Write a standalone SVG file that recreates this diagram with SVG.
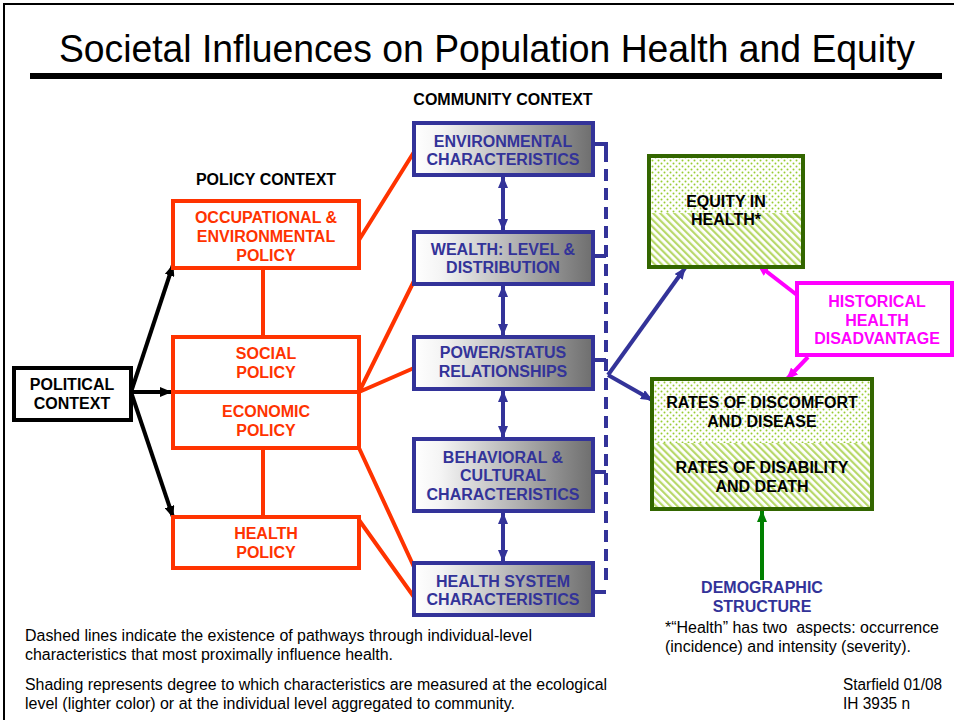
<svg xmlns="http://www.w3.org/2000/svg" width="954" height="720" viewBox="0 0 954 720">
<style>
text { font-family: "Liberation Sans", Arial, sans-serif; }
.b { font-weight: bold; font-size: 16px; text-anchor: middle; }
.n { font-size: 16px; fill: #000; white-space: pre; }
.org { fill: #ff3300; }
.blu { fill: #333399; }
.mag { fill: #ff00ff; }
.pol { fill: #fff; stroke: #ff3300; stroke-width: 4; }
.com { fill: url(#grad); stroke: #333399; stroke-width: 4; }
.grn { stroke: #336600; stroke-width: 4; fill: none; }
.cO { stroke: #ff3300; stroke-width: 4; fill: none; }
.cB { stroke: #333399; stroke-width: 4; fill: none; }
.cK { stroke: #000; stroke-width: 4; fill: none; }
.cM { stroke: #ff00ff; stroke-width: 4; fill: none; }
.cG { stroke: #008000; stroke-width: 4; fill: none; }
</style>
<defs>
<linearGradient id="grad" x1="0" y1="0" x2="1" y2="0">
<stop offset="0" stop-color="#ffffff"/>
<stop offset="0.15" stop-color="#f4f4f4"/>
<stop offset="1" stop-color="#6e6e6e"/>
</linearGradient>
<pattern id="dots" width="6" height="6" patternUnits="userSpaceOnUse">
<rect width="6" height="6" fill="#fff"/>
<circle cx="1.5" cy="1.5" r="1" fill="#99cc33"/>
<circle cx="4.5" cy="4.5" r="1" fill="#99cc33"/>
</pattern>
<pattern id="hatch" width="5" height="5" patternUnits="userSpaceOnUse" patternTransform="rotate(-45)">
<rect width="5" height="5" fill="#fff"/>
<rect width="2.2" height="5" fill="#b8d86a"/>
</pattern>
<marker id="aB" viewBox="0 0 12 10" refX="11" refY="5" markerWidth="12" markerHeight="10" markerUnits="userSpaceOnUse" orient="auto-start-reverse"><path d="M0,0 L12,5 L0,10 z" fill="#333399"/></marker>
<marker id="aK" viewBox="0 0 12 10" refX="11" refY="5" markerWidth="12" markerHeight="10" markerUnits="userSpaceOnUse" orient="auto"><path d="M0,0 L12,5 L0,10 z" fill="#000"/></marker>
<marker id="aM" viewBox="0 0 12 10" refX="11" refY="5" markerWidth="12" markerHeight="10" markerUnits="userSpaceOnUse" orient="auto"><path d="M0,0 L12,5 L0,10 z" fill="#ff00ff"/></marker>
<marker id="aG" viewBox="0 0 12 10" refX="11" refY="5" markerWidth="12" markerHeight="10" markerUnits="userSpaceOnUse" orient="auto"><path d="M0,0 L12,5 L0,10 z" fill="#008000"/></marker>
</defs>

<rect x="0" y="0" width="954" height="720" fill="#fff"/>
<rect x="4" y="4" width="1000" height="800" fill="none" stroke="#000" stroke-width="2"/>
<text x="487" y="62" font-size="38" text-anchor="middle" textLength="856" lengthAdjust="spacingAndGlyphs">Societal Influences on Population Health and Equity</text>
<line x1="30" y1="76" x2="942" y2="76" stroke="#000" stroke-width="6"/>

<text class="b" x="266" y="185">POLICY CONTEXT</text>
<text class="b" x="503" y="105">COMMUNITY CONTEXT</text>

<g id="connectors">
<path class="cO" d="M263,268 V337 M263,448 V517 M359,240 L414,152 M359,392 L414,281 M359,392 L414,368 M359,448 L414,567 M359,520 L414,597"/>
<path class="cK" d="M131,392 L171,392" marker-end="url(#aK)"/>
<path class="cK" d="M131,392 L173,265" marker-end="url(#aK)"/>
<path class="cK" d="M131,392 L173,517" marker-end="url(#aK)"/>
<path class="cB" d="M503,177 V230" marker-start="url(#aB)" marker-end="url(#aB)"/>
<path class="cB" d="M503,286 V335" marker-start="url(#aB)" marker-end="url(#aB)"/>
<path class="cB" d="M503,391 V437" marker-start="url(#aB)" marker-end="url(#aB)"/>
<path class="cB" d="M503,513 V561" marker-start="url(#aB)" marker-end="url(#aB)"/>
<path class="cB" d="M593,144 H606 V150 M593,256 H606 M593,360 H606 M593,472 H606 M593,592 H606"/>
<path class="cB" d="M606,150 V580" stroke-dasharray="12 7"/>
<path class="cB" d="M608,375 L685,268" marker-end="url(#aB)"/>
<path class="cB" d="M608,375 L652,400" marker-end="url(#aB)"/>
<path class="cM" d="M797,295 L758,265" marker-end="url(#aM)"/>
<path class="cM" d="M808,357 L787,379" marker-end="url(#aM)"/>
<path class="cG" d="M762,580 L762,511" marker-end="url(#aG)"/>
</g>

<g id="political">
<rect x="14" y="368" width="117" height="52" fill="#fff" stroke="#000" stroke-width="4"/>
<text class="b" x="72" y="390">POLITICAL</text>
<text class="b" x="72" y="409">CONTEXT</text>
</g>

<g id="occ-policy">
<rect class="pol" x="173" y="201" width="186" height="67"/>
<text class="b org" x="266" y="223">OCCUPATIONAL &amp;</text>
<text class="b org" x="266" y="242">ENVIRONMENTAL</text>
<text class="b org" x="266" y="261">POLICY</text>
</g>
<g id="social-economic-policy">
<rect class="pol" x="173" y="337" width="186" height="111"/>
<line x1="173" y1="392" x2="359" y2="392" stroke="#ff3300" stroke-width="4"/>
<text class="b org" x="266" y="359">SOCIAL</text>
<text class="b org" x="266" y="378">POLICY</text>
<text class="b org" x="266" y="417">ECONOMIC</text>
<text class="b org" x="266" y="436">POLICY</text>
</g>
<g id="health-policy">
<rect class="pol" x="173" y="517" width="186" height="51"/>
<text class="b org" x="266" y="539">HEALTH</text>
<text class="b org" x="266" y="558">POLICY</text>
</g>

<g id="env">
<rect class="com" x="414" y="123" width="179" height="52"/>
<text class="b blu" x="503" y="147">ENVIRONMENTAL</text>
<text class="b blu" x="503" y="165">CHARACTERISTICS</text>
</g>
<g id="wealth">
<rect class="com" x="414" y="232" width="179" height="52"/>
<text class="b blu" x="503" y="255">WEALTH: LEVEL &amp;</text>
<text class="b blu" x="503" y="273">DISTRIBUTION</text>
</g>
<g id="power">
<rect class="com" x="414" y="337" width="179" height="52"/>
<text class="b blu" x="503" y="358">POWER/STATUS</text>
<text class="b blu" x="503" y="377">RELATIONSHIPS</text>
</g>
<g id="behavioral">
<rect class="com" x="414" y="439" width="179" height="72"/>
<text class="b blu" x="503" y="463">BEHAVIORAL &amp;</text>
<text class="b blu" x="503" y="481">CULTURAL</text>
<text class="b blu" x="503" y="500">CHARACTERISTICS</text>
</g>
<g id="healthsystem">
<rect class="com" x="414" y="563" width="179" height="52"/>
<text class="b blu" x="503" y="587">HEALTH SYSTEM</text>
<text class="b blu" x="503" y="605">CHARACTERISTICS</text>
</g>

<g id="equity">
<rect x="649" y="156" width="154" height="57" fill="url(#dots)"/>
<rect x="649" y="213" width="154" height="54" fill="url(#hatch)"/>
<rect class="grn" x="649" y="156" width="154" height="111"/>
<text class="b" x="726" y="207">EQUITY IN</text>
<text class="b" x="726" y="225">HEALTH*</text>
</g>

<g id="rates">
<rect x="652" y="379" width="220" height="64" fill="url(#dots)"/>
<rect x="652" y="443" width="220" height="66" fill="url(#hatch)"/>
<rect class="grn" x="652" y="379" width="220" height="130"/>
<text class="b" x="762" y="408">RATES OF DISCOMFORT</text>
<text class="b" x="762" y="427">AND DISEASE</text>
<text class="b" x="762" y="473">RATES OF DISABILITY</text>
<text class="b" x="762" y="492">AND DEATH</text>
</g>

<g id="historical">
<rect x="797" y="283" width="155" height="72" fill="#fff" stroke="#ff00ff" stroke-width="4"/>
<text class="b mag" x="877" y="307">HISTORICAL</text>
<text class="b mag" x="877" y="326">HEALTH</text>
<text class="b mag" x="877" y="344">DISADVANTAGE</text>
</g>

<g id="demographic">
<text class="b blu" x="762" y="593">DEMOGRAPHIC</text>
<text class="b blu" x="762" y="612">STRUCTURE</text>
</g>

<g id="notes">
<text class="n" x="25" y="641" textLength="507" lengthAdjust="spacingAndGlyphs">Dashed lines indicate the existence of pathways through individual-level</text>
<text class="n" x="25" y="660" textLength="368" lengthAdjust="spacingAndGlyphs">characteristics that most proximally influence health.</text>
<text class="n" x="25" y="690" textLength="582" lengthAdjust="spacingAndGlyphs">Shading represents degree to which characteristics are measured at the ecological</text>
<text class="n" x="25" y="709" textLength="490" lengthAdjust="spacingAndGlyphs">level (lighter color) or at the individual level aggregated to community.</text>
<text class="n" x="665" y="633" textLength="274" lengthAdjust="spacingAndGlyphs" xml:space="preserve">*“Health” has two  aspects: occurrence</text>
<text class="n" x="665" y="652" textLength="246" lengthAdjust="spacingAndGlyphs">(incidence) and intensity (severity).</text>
<text class="n" x="843" y="690" textLength="99" lengthAdjust="spacingAndGlyphs">Starfield 01/08</text>
<text class="n" x="843" y="709" textLength="67" lengthAdjust="spacingAndGlyphs">IH 3935 n</text>
</g>
</svg>
